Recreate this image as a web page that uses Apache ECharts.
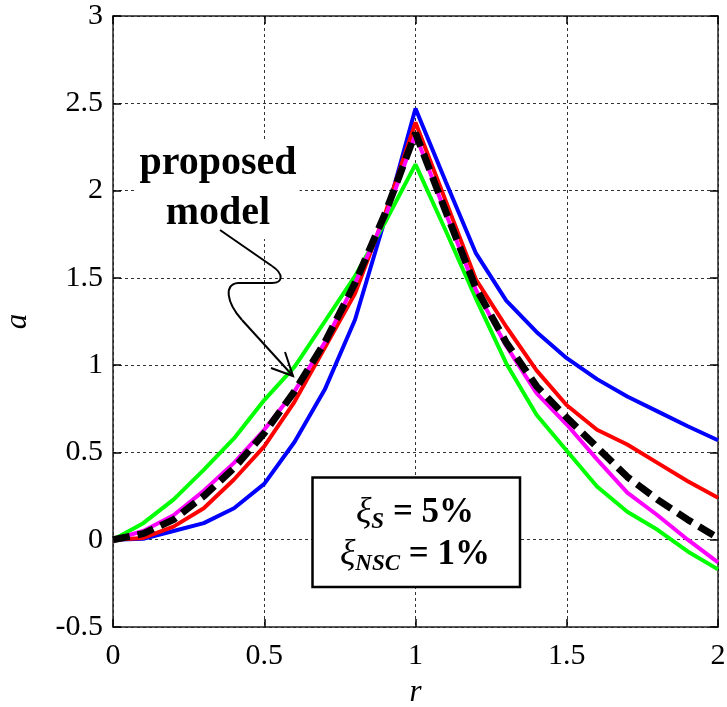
<!DOCTYPE html>
<html>
<head>
<meta charset="utf-8">
<script src="https://cdn.jsdelivr.net/npm/echarts@6/dist/echarts.min.js"></script>
<style>html,body{margin:0;padding:0;background:#fff}#c{width:727px;height:707px}</style>
</head>
<body>
<div id="c"></div>
<script>
// frequency ratio r
const rValues = [0, 0.1, 0.2, 0.3, 0.4, 0.5, 0.6, 0.7, 0.8, 0.9, 1.0, 1.1, 1.2, 1.3, 1.4, 1.5, 1.6, 1.7, 1.8, 1.9, 2.0];
// amplification a for each curve
const blueA    = [0, 0.005, 0.05, 0.095, 0.18, 0.32, 0.56, 0.86, 1.26, 1.84, 2.47, 2.05, 1.64, 1.37, 1.19, 1.04, 0.92, 0.82, 0.735, 0.65, 0.57];
const redA     = [0, 0.01, 0.075, 0.18, 0.345, 0.535, 0.79, 1.10, 1.41, 1.87, 2.39, 1.94, 1.49, 1.22, 0.97, 0.77, 0.63, 0.545, 0.44, 0.335, 0.24];
const greenA   = [0, 0.095, 0.23, 0.40, 0.58, 0.80, 0.99, 1.25, 1.51, 1.82, 2.15, 1.77, 1.38, 1.01, 0.716, 0.51, 0.305, 0.16, 0.057, -0.067, -0.17];
const magentaA = [0, 0.05, 0.14, 0.28, 0.44, 0.63, 0.85, 1.13, 1.47, 1.85, 2.32, 1.87, 1.43, 1.11, 0.84, 0.66, 0.46, 0.27, 0.14, 0.0, -0.13];
const proposedA= [0, 0.035, 0.115, 0.25, 0.41, 0.61, 0.85, 1.13, 1.47, 1.87, 2.33, 1.88, 1.44, 1.13, 0.88, 0.70, 0.53, 0.36, 0.23, 0.115, 0.01];
const xName = 'r';
const yName = 'a';
const annotationText = 'proposed\nmodel';

const FONT = '"Liberation Serif", "Times New Roman", serif';
const pairs = arr => rValues.map((r, i) => [r, arr[i]]);

const chart = echarts.init(document.getElementById('c'), null, {renderer: 'canvas'});

const tick = {show: true, inside: true, length: 8, lineStyle: {color: '#000', width: 1.5}};
const line = {show: true, onZero: false, lineStyle: {color: '#222', width: 1.5}};

function mk(name, data, color, z, extra) {
  return Object.assign({
    name: name, type: 'line', data: pairs(data), xAxisIndex: 0, yAxisIndex: 0,
    showSymbol: false, symbol: 'none', z: z, silent: true,
    lineStyle: {color: color, width: 4}
  }, extra || {});
}

const arrowStyle = {fill: null, stroke: '#000', lineWidth: 2};

chart.setOption({
  animation: false,
  backgroundColor: '#fff',
  grid: {left: 113, right: 9, top: 16, bottom: 80, outerBoundsMode: 'none', containLabel: false},
  xAxis: [
    {type: 'value', min: 0, max: 2, interval: 0.5, position: 'bottom',
     axisLine: line, axisTick: tick,
     axisLabel: {fontFamily: FONT, fontSize: 30, color: '#000', margin: 14},
     splitLine: {show: true, lineStyle: {type: [3, 3], color: '#333', width: 1}},
     name: xName, nameLocation: 'middle', nameGap: 50,
     nameTextStyle: {fontFamily: FONT, fontStyle: 'italic', fontSize: 31, color: '#000'}},
    {type: 'value', min: 0, max: 2, interval: 0.5, position: 'top',
     axisLine: line, axisTick: tick, axisLabel: {show: false}, splitLine: {show: false}}
  ],
  yAxis: [
    {type: 'value', min: -0.5, max: 3, interval: 0.5, position: 'left',
     axisLine: line, axisTick: tick,
     axisLabel: {fontFamily: FONT, fontSize: 30, color: '#000', margin: 10},
     splitLine: {show: true, lineStyle: {type: [3, 3], color: '#333', width: 1}},
     name: yName, nameLocation: 'middle', nameGap: 80,
     nameTextStyle: {fontFamily: FONT, fontStyle: 'italic', fontSize: 31, color: '#000'}},
    {type: 'value', min: -0.5, max: 3, interval: 0.5, position: 'right',
     axisLine: line, axisTick: tick, axisLabel: {show: false}, splitLine: {show: false}}
  ],
  series: [
    mk('blue', blueA, '#0000ff', 2),
    mk('red', redA, '#ff0000', 3),
    mk('green', greenA, '#00ff00', 4),
    mk('magenta', magentaA, '#ff00ff', 5),
    mk('proposed model', proposedA, '#000000', 6, {lineStyle: {color: '#000', width: 7, type: [17, 8], cap: 'butt'}})
  ],
  graphic: [
    {type: 'text', z: 20, x: 218, y: 189,
     style: {text: annotationText, fontFamily: FONT, fontWeight: 'bold', fontSize: 40, lineHeight: 50,
             fill: '#000', align: 'center', verticalAlign: 'middle', backgroundColor: '#fff', padding: [0, 3]}},
    {type: 'line', z: 21, shape: {x1: 220, y1: 230, x2: 272, y2: 266}, style: arrowStyle},
    {type: 'bezierCurve', z: 21, shape: {x1: 272, y1: 266, cpx1: 284, cpy1: 274, cpx2: 283, cpy2: 283, x2: 272, y2: 283}, style: arrowStyle},
    {type: 'line', z: 21, shape: {x1: 272, y1: 283, x2: 238, y2: 283}, style: arrowStyle},
    {type: 'bezierCurve', z: 21, shape: {x1: 238, y1: 283, cpx1: 224, cpy1: 284, cpx2: 226, cpy2: 302, x2: 242, y2: 320}, style: arrowStyle},
    {type: 'line', z: 21, shape: {x1: 242, y1: 320, x2: 293, y2: 376}, style: arrowStyle},
    {type: 'polyline', z: 21, shape: {points: [[285, 352], [293, 376], [271, 368]]}, style: arrowStyle},
    {type: 'rect', z: 20, shape: {x: 312.5, y: 477.5, width: 207.5, height: 109.5},
     style: {fill: '#fff', stroke: '#000', lineWidth: 2.5}},
    {type: 'text', z: 21, x: 415, y: 534,
     style: {
       text: '{xi|ξ}{sub|S}{b| = 5%}\n{xi|ξ}{sub|NSC}{b| = 1%}',
       align: 'center', verticalAlign: 'middle', fill: '#000',
       rich: {
         xi: {fontFamily: FONT, fontStyle: 'italic', fontSize: 36, lineHeight: 42},
         sub: {fontFamily: FONT, fontStyle: 'italic', fontWeight: 'bold', fontSize: 23, lineHeight: 22, verticalAlign: 'bottom'},
         b: {fontFamily: FONT, fontWeight: 'bold', fontSize: 35, lineHeight: 42}
       }
     }}
  ]
});
</script>
</body>
</html>
